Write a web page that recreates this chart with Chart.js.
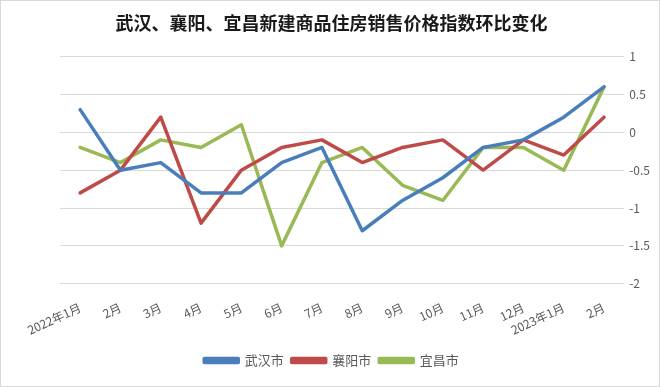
<!DOCTYPE html>
<html>
<head>
<meta charset="utf-8">
<script src="https://cdn.jsdelivr.net/npm/chart.js@4.4.1/dist/chart.umd.min.js"></script>
<style>
  html, body { margin: 0; padding: 0; background: #fff; }
  #wrap { position: relative; width: 660px; height: 387px; }
  #frame { position: absolute; left: 0; top: 0; width: 660px; height: 387px; box-sizing: border-box; border: 1px solid #d9d9d9; pointer-events: none; }
</style>
</head>
<body>
<div id="wrap">
  <canvas id="priceChart" width="660" height="387"></canvas>
  <div id="frame"></div>
</div>
<script>
// 月份标签
const months = ['2022年1月', '2月', '3月', '4月', '5月', '6月', '7月', '8月', '9月', '10月', '11月', '12月', '2023年1月', '2月'];

// 环比变化 (%)
const wuhan   = [0.3, -0.5, -0.4, -0.8, -0.8, -0.4, -0.2, -1.3, -0.9, -0.6, -0.2, -0.1, 0.2, 0.6];
const xiangyang = [-0.8, -0.5, 0.2, -1.2, -0.5, -0.2, -0.1, -0.4, -0.2, -0.1, -0.5, -0.1, -0.3, 0.2];
const yichang = [-0.2, -0.4, -0.1, -0.2, 0.1, -1.5, -0.4, -0.2, -0.7, -0.9, -0.2, -0.2, -0.5, 0.6];

const FONT = '"Noto Sans CJK SC", "Noto Sans", sans-serif';

const makeLine = (label, data, color) => ({
    label: label,
    data: data,
    borderColor: color,
    backgroundColor: color,
    borderWidth: 3.5,
    pointRadius: 0,
    tension: 0,
    fill: false,
    borderJoinStyle: 'round',
    borderCapStyle: 'round'
});

new Chart(document.getElementById('priceChart'), {
    type: 'line',
    data: {
        labels: months,
        datasets: [
            makeLine('武汉市', wuhan, '#4a7ebb'),
            makeLine('襄阳市', xiangyang, '#be4b48'),
            makeLine('宜昌市', yichang, '#98b954')
        ]
    },
    options: {
        responsive: false,
        animation: false,
        layout: { padding: { top: 8, left: 8, right: 5, bottom: 10 } },
        plugins: {
            title: {
                display: true,
                text: '武汉、襄阳、宜昌新建商品住房销售价格指数环比变化',
                color: '#1a1a1a',
                font: { family: FONT, size: 18, weight: 'bold' },
                padding: { top: 4, bottom: 23 }
            },
            legend: {
                position: 'bottom',
                labels: {
                    color: '#595959',
                    font: { family: FONT, size: 13 },
                    boxWidth: 34,
                    boxHeight: 4,
                    padding: 8
                }
            },
            tooltip: { enabled: false }
        },
        scales: {
            x: {
                offset: true,
                grid: { display: false },
                border: { display: false },
                ticks: {
                    color: '#595959',
                    font: { family: FONT, size: 12 },
                    minRotation: 25,
                    maxRotation: 25,
                    autoSkip: false,
                    padding: 8.5
                }
            },
            y: {
                position: 'right',
                min: -2,
                max: 1,
                grid: { color: '#d9d9d9', drawTicks: false },
                border: { display: false },
                ticks: {
                    stepSize: 0.5,
                    color: '#595959',
                    font: { family: FONT, size: 12 },
                    padding: 5,
                    callback: (v) => String(v)
                }
            },
            // 左侧留白用的空轴
            spacer: {
                position: 'left',
                grid: { display: false },
                border: { display: false },
                ticks: { display: false },
                afterFit: (scale) => { scale.width = 52; }
            }
        }
    }
});
</script>
</body>
</html>
